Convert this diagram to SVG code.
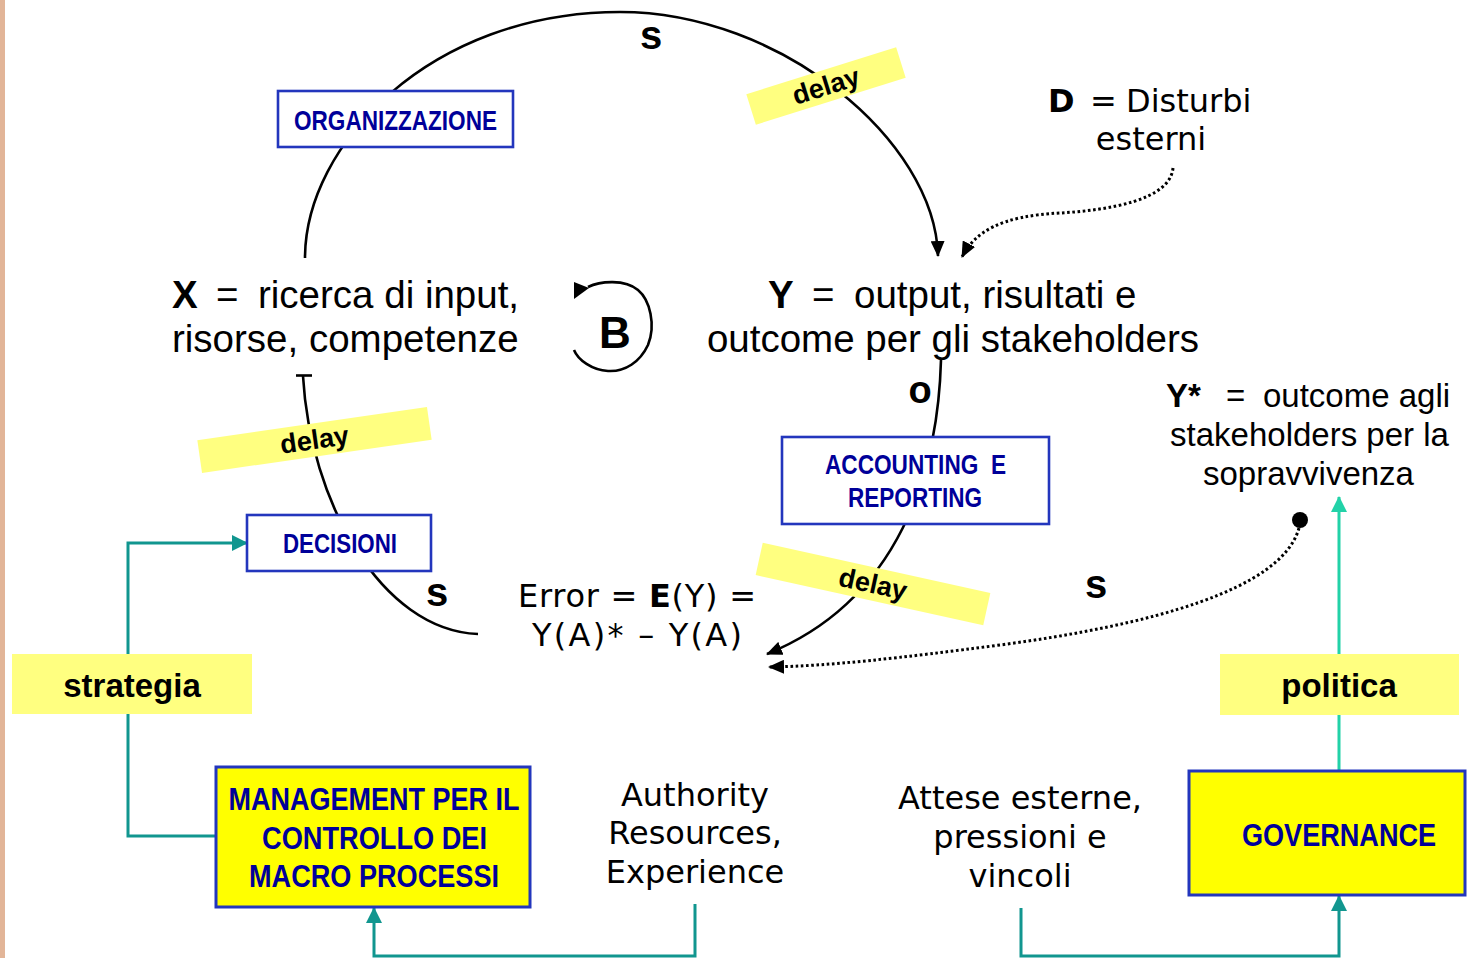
<svg xmlns="http://www.w3.org/2000/svg" width="1468" height="958" viewBox="0 0 1468 958">
  <defs>
    <style>
      .curve { fill: none; stroke: #000; stroke-width: 2.6; }
      .dotted { fill: none; stroke: #000; stroke-width: 3; stroke-dasharray: 2.6 2.6; }
      .teal { fill: none; stroke: #11968f; stroke-width: 3; }
      .turq { fill: none; stroke: #22d2a8; stroke-width: 3; }
      .box { fill: #fff; stroke: #2336bd; stroke-width: 2.6; }
      .boxy { fill: #ffff00; stroke: #2336bd; stroke-width: 3; }
      .hl { fill: #ffff80; }
      .nlbl { font-family: "Liberation Sans Narrow", "Liberation Sans", Arial, sans-serif; font-weight: bold; fill: #000099; text-anchor: middle; }
      .tag { font-family: "Liberation Sans", Arial, sans-serif; font-weight: bold; fill: #000; text-anchor: middle; }
      .big { font-family: "Liberation Sans", Arial, sans-serif; font-size: 38.5px; fill: #000; }
      .mid { font-family: "Liberation Sans", Arial, sans-serif; font-size: 33px; fill: #000; }
      .dv { font-family: "DejaVu Sans", Verdana, sans-serif; font-size: 32px; fill: #000; }
      .b { font-weight: bold; }
    </style>
    <marker id="ah" viewBox="0 0 16 14" refX="15" refY="7" markerWidth="16" markerHeight="14" markerUnits="userSpaceOnUse" orient="auto">
      <path d="M0,0 L16,7 L0,14 z" fill="#000"/>
    </marker>
    <marker id="ah-teal" viewBox="0 0 16 16" refX="15" refY="8" markerWidth="16" markerHeight="16" markerUnits="userSpaceOnUse" orient="auto">
      <path d="M0,0 L16,8 L0,16 z" fill="#11968f"/>
    </marker>
    <marker id="ah-turq" viewBox="0 0 16 16" refX="15" refY="8" markerWidth="16" markerHeight="16" markerUnits="userSpaceOnUse" orient="auto">
      <path d="M0,0 L16,8 L0,16 z" fill="#22d2a8"/>
    </marker>
  </defs>

  <rect width="1468" height="958" fill="#fff"/>
  <rect x="0" y="0" width="5" height="958" fill="#e2b598"/>

  <!-- connectors -->
  <g id="connectors">
    <!-- X -> organizzazione -> Y -->
    <path class="curve" d="M305,258 C305,145 430,12 620,12 C780,12 935,140 938,256" marker-end="url(#ah)"/>
    <!-- external disturbances -> Y -->
    <path class="dotted" d="M1173,168 C1170,200 1110,210 1060,213 C1000,216 975,232 962,257" marker-end="url(#ah)"/>
    <!-- Y -> accounting -> error -->
    <path class="curve" d="M941,360 C938,470 900,600 767,654" marker-end="url(#ah)"/>
    <!-- Y* -> error -->
    <path class="dotted" d="M1299,528 C1282,590 1150,625 1000,645 C900,658 830,666 769,667" marker-end="url(#ah)"/>
    <circle cx="1300" cy="520" r="8" fill="#000"/>
    <!-- error -> decisioni -> X -->
    <path class="curve" d="M478,634 C380,630 310,500 303,376"/>
    <path d="M296,375.5 H312" stroke="#000" stroke-width="2.6"/>
    <!-- balancing loop marker -->
    <path class="curve" d="M588,287 C600,281 625,279 638,290 C650,300 656,325 648,345 C640,362 625,372 608,371 C592,370 578,360 574,350"/>
    <path d="M574,282 L574,299 L589,288 z" fill="#000"/>
    <!-- strategia -> decisioni -->
    <path class="teal" d="M128,654 V543 H247" marker-end="url(#ah-teal)"/>
    <path class="teal" d="M128,714 V836 H216"/>
    <!-- authority -> management -->
    <path class="teal" d="M695,904 V956 H374 V908" marker-end="url(#ah-teal)"/>
    <!-- attese -> governance -->
    <path class="teal" d="M1021,908 V956 H1339 V896" marker-end="url(#ah-teal)"/>
    <!-- governance -> politica -> Y* -->
    <path class="turq" d="M1339,771 V497" marker-end="url(#ah-turq)"/>
  </g>

  <!-- delay labels -->
  <g id="delay-top" transform="translate(826,86) rotate(-17.4)">
    <rect class="hl" x="-78.5" y="-16" width="157" height="32"/>
    <text class="tag" y="9" font-size="27">delay</text>
  </g>
  <g id="delay-left" transform="translate(314.5,440) rotate(-8.2)">
    <rect class="hl" x="-116" y="-16.5" width="232" height="33"/>
    <text class="tag" y="9" font-size="27">delay</text>
  </g>
  <g id="delay-right" transform="translate(873,584) rotate(12.4)">
    <rect class="hl" x="-116.5" y="-16.5" width="233" height="33"/>
    <text class="tag" y="9" font-size="27">delay</text>
  </g>

  <!-- polarity labels -->
  <g id="polarities">
    <text class="tag" x="651" y="49" font-size="40">s</text>
    <text class="tag" x="437" y="606" font-size="40">s</text>
    <text class="tag" x="1096" y="598" font-size="40">s</text>
    <text class="tag" x="920" y="403" font-size="38">o</text>
    <text class="tag" x="615" y="348" font-size="44">B</text>
  </g>

  <g id="organizzazione">
    <rect class="box" x="278" y="91" width="235" height="56"/>
    <text class="nlbl" x="395.5" y="130" font-size="28" textLength="203" lengthAdjust="spacingAndGlyphs">ORGANIZZAZIONE</text>
  </g>

  <g id="decisioni">
    <rect class="box" x="247" y="515" width="184" height="56"/>
    <text class="nlbl" x="340" y="553" font-size="28" textLength="114" lengthAdjust="spacingAndGlyphs">DECISIONI</text>
  </g>

  <g id="accounting">
    <rect class="box" x="782" y="437" width="267" height="87"/>
    <text class="nlbl" x="915.5" y="474" font-size="27" textLength="181" lengthAdjust="spacingAndGlyphs" xml:space="preserve">ACCOUNTING  E</text>
    <text class="nlbl" x="915" y="507" font-size="27" textLength="134" lengthAdjust="spacingAndGlyphs">REPORTING</text>
  </g>

  <g id="management">
    <rect class="boxy" x="216" y="767" width="314" height="140"/>
    <text class="nlbl" x="374" y="810" font-size="32" textLength="291" lengthAdjust="spacingAndGlyphs">MANAGEMENT PER IL</text>
    <text class="nlbl" x="374.5" y="849" font-size="32" textLength="225" lengthAdjust="spacingAndGlyphs">CONTROLLO DEI</text>
    <text class="nlbl" x="374" y="887" font-size="32" textLength="250" lengthAdjust="spacingAndGlyphs">MACRO PROCESSI</text>
  </g>

  <g id="governance">
    <rect class="boxy" x="1189" y="771" width="276" height="124"/>
    <text class="nlbl" transform="translate(1339,846) scale(0.847,1)" font-size="32">GOVERNANCE</text>
  </g>

  <g id="strategia">
    <rect class="hl" x="12" y="654" width="240" height="60"/>
    <text class="tag" x="132" y="697" font-size="33">strategia</text>
  </g>

  <g id="politica">
    <rect class="hl" x="1220" y="654" width="239" height="61"/>
    <text class="tag" x="1339" y="697" font-size="33">politica</text>
  </g>

  <g id="x-input">
    <text class="big" y="308"><tspan class="b" x="172">X</tspan><tspan x="216">=</tspan><tspan x="258">ricerca di input,</tspan></text>
    <text class="big" x="172" y="352">risorse, competenze</text>
  </g>

  <g id="y-output">
    <text class="big" y="308"><tspan class="b" x="768">Y</tspan><tspan x="812">=</tspan><tspan x="854">output, risultati e</tspan></text>
    <text class="big" x="953" y="352" text-anchor="middle">outcome per gli stakeholders</text>
  </g>

  <g id="disturbi">
    <text class="dv" y="112"><tspan class="b" x="1048">D</tspan><tspan x="1090">=</tspan><tspan x="1126">Disturbi</tspan></text>
    <text class="dv" x="1151" y="150" text-anchor="middle">esterni</text>
  </g>

  <g id="y-star">
    <text class="mid" y="407"><tspan class="b" x="1166">Y*</tspan><tspan x="1226">=</tspan><tspan x="1263">outcome agli</tspan></text>
    <text class="mid" x="1309.5" y="446" text-anchor="middle">stakeholders per la</text>
    <text class="mid" x="1308.5" y="485" text-anchor="middle">sopravvivenza</text>
  </g>

  <g id="error">
    <text class="dv" x="518" y="607" textLength="238" lengthAdjust="spacing">Error = <tspan class="b">E</tspan>(Y) =</text>
    <text class="dv" x="532" y="646" textLength="210" lengthAdjust="spacing">Y(A)* – Y(A)</text>
  </g>

  <g id="authority">
    <text class="dv" x="695" y="806" text-anchor="middle">Authority</text>
    <text class="dv" x="695" y="844" text-anchor="middle">Resources,</text>
    <text class="dv" x="695" y="883" text-anchor="middle">Experience</text>
  </g>

  <g id="attese">
    <text class="dv" x="1020" y="809" text-anchor="middle">Attese esterne,</text>
    <text class="dv" x="1020" y="848" text-anchor="middle">pressioni e</text>
    <text class="dv" x="1020" y="887" text-anchor="middle">vincoli</text>
  </g>
</svg>
